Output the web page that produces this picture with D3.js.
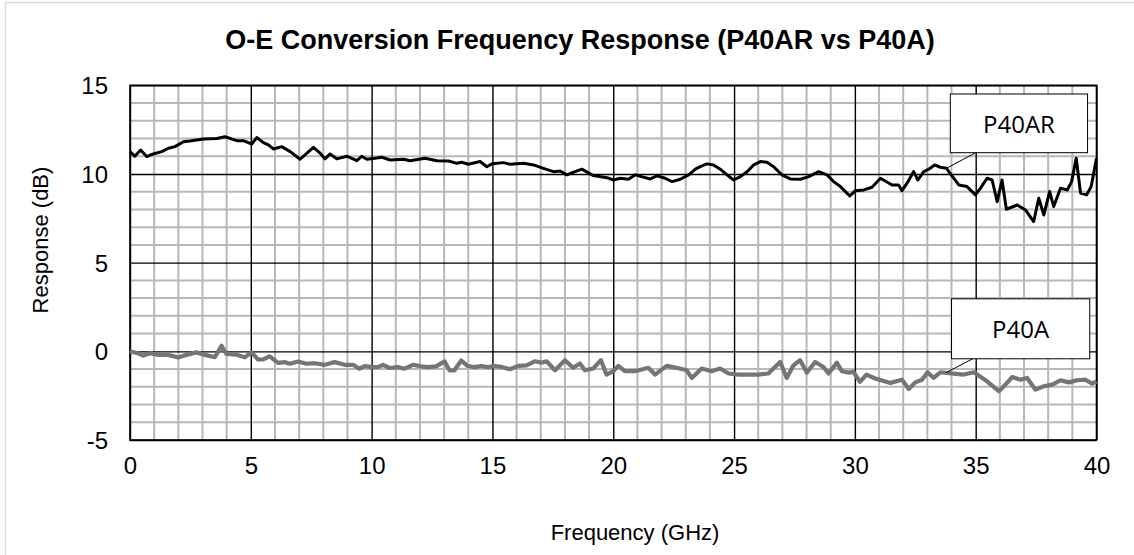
<!DOCTYPE html>
<html>
<head>
<meta charset="utf-8">
<script src="https://cdn.jsdelivr.net/npm/d3@7"></script>
<style>
  html, body { margin: 0; padding: 0; background: #fff; }
  svg { display: block; }
</style>
</head>
<body>
<svg id="chart" width="1134" height="555"></svg>
<script>
// ---- data ----
const chartTitle = "O-E Conversion Frequency Response (P40AR vs P40A)";
const xTitle = "Frequency (GHz)";
const yTitle = "Response (dB)";
const xTicks = [0, 5, 10, 15, 20, 25, 30, 35, 40];
const yTicks = [-5, 0, 5, 10, 15];
const seriesNames = ["P40AR", "P40A"];

const freqAR = [0,0.2,0.44,0.69,0.96,1.31,1.59,1.86,2.21,2.48,2.76,3.04,3.59,3.93,4.42,4.69,5.04,5.25,5.52,5.73,5.93,6.28,6.63,7.04,7.59,7.87,8.07,8.28,8.56,8.97,9.39,9.59,9.8,10.14,10.42,10.77,11.32,11.59,12.21,12.7,13.18,13.53,13.73,14.0,14.49,14.77,14.98,15.46,15.73,16.29,16.7,17.11,17.53,17.8,18.08,18.36,18.7,19.18,19.74,20.01,20.29,20.63,20.91,21.25,21.53,21.81,22.15,22.43,22.77,23.12,23.4,23.6,23.88,24.15,24.43,24.71,24.98,25.26,25.54,25.81,26.09,26.36,26.64,26.98,27.33,27.74,28.09,28.5,28.85,29.12,29.4,29.79,30.02,30.37,30.71,31.06,31.54,31.81,31.95,32.16,32.43,32.61,32.85,33.06,33.3,33.54,33.79,34.02,34.3,34.64,34.99,35.2,35.47,35.68,35.89,36.09,36.27,36.72,37.06,37.4,37.61,37.82,38.06,38.23,38.51,38.79,38.97,39.16,39.34,39.59,39.78,40.0];
const valAR = [11.26,11.0,11.35,10.98,11.13,11.26,11.45,11.54,11.82,11.86,11.92,11.97,12.0,12.1,11.88,11.88,11.69,12.05,11.77,11.64,11.41,11.54,11.26,10.83,11.5,11.17,10.85,11.13,10.85,11.0,10.75,11.0,10.83,10.89,10.94,10.79,10.83,10.75,10.89,10.75,10.73,10.6,10.66,10.55,10.7,10.41,10.57,10.64,10.55,10.6,10.51,10.32,10.13,10.17,9.95,10.1,10.27,9.91,9.79,9.66,9.76,9.7,9.95,9.82,9.72,9.89,9.76,9.57,9.7,9.95,10.27,10.41,10.57,10.51,10.27,9.95,9.66,9.85,10.13,10.51,10.7,10.66,10.41,9.95,9.72,9.7,9.85,10.13,9.95,9.57,9.29,8.76,9.06,9.1,9.25,9.76,9.38,9.38,9.06,9.48,10.13,9.66,10.13,10.27,10.51,10.38,10.32,9.89,9.38,9.29,8.82,9.2,9.76,9.66,8.44,9.66,8.01,8.25,7.97,7.32,8.63,7.69,9.01,8.16,9.2,9.1,9.57,10.89,8.92,8.82,9.29,10.89];

const freqA = [0,0.28,0.55,0.83,1.17,1.58,2.0,2.34,2.75,3.1,3.51,3.79,3.99,4.41,4.75,5.03,5.3,5.51,5.78,6.13,6.41,6.61,6.96,7.3,7.64,8.06,8.47,8.88,9.23,9.5,9.71,9.99,10.26,10.47,10.74,11.09,11.36,11.71,12.05,12.33,12.67,13.02,13.22,13.43,13.71,13.98,14.26,14.53,14.81,15.08,15.37,15.72,16.07,16.41,16.75,17.03,17.24,17.59,18.0,18.34,18.62,18.83,19.17,19.49,19.72,20.0,20.21,20.48,20.9,21.45,21.73,22.21,22.62,23.04,23.25,23.66,24.07,24.42,24.77,25.18,26.01,26.42,26.63,26.91,27.18,27.46,27.73,28.01,28.36,28.7,28.91,29.25,29.46,29.74,29.94,30.21,30.48,30.84,31.47,31.95,32.23,32.5,32.78,33.01,33.26,33.54,34.09,34.51,34.92,35.47,35.96,36.23,36.51,36.85,37.13,37.47,37.82,38.17,38.51,38.85,39.2,39.54,39.82,40.0];
const valA = [0.0,-0.09,-0.24,-0.11,-0.2,-0.2,-0.35,-0.2,-0.06,-0.2,-0.33,0.31,-0.15,-0.19,-0.33,-0.06,-0.46,-0.46,-0.28,-0.65,-0.61,-0.7,-0.57,-0.7,-0.67,-0.76,-0.61,-0.76,-0.76,-0.98,-0.83,-0.89,-0.89,-0.76,-0.94,-0.89,-0.98,-0.76,-0.85,-0.89,-0.85,-0.57,-1.07,-1.07,-0.52,-0.83,-0.89,-0.83,-0.89,-0.83,-0.88,-1.01,-0.82,-0.79,-0.56,-0.64,-0.56,-1.07,-0.5,-0.93,-0.69,-1.07,-0.97,-0.5,-1.31,-1.12,-0.82,-1.12,-1.12,-0.93,-1.31,-0.82,-0.93,-1.07,-1.5,-0.97,-1.12,-0.97,-1.25,-1.31,-1.31,-1.25,-0.97,-0.6,-1.5,-0.79,-0.5,-1.2,-0.6,-0.88,-1.25,-0.64,-1.12,-1.2,-1.16,-1.72,-1.31,-1.53,-1.78,-1.6,-2.12,-1.75,-1.6,-1.18,-1.5,-1.18,-1.26,-1.31,-1.18,-1.69,-2.25,-1.88,-1.45,-1.6,-1.5,-2.16,-1.97,-1.88,-1.63,-1.75,-1.63,-1.6,-1.82,-1.69];

// label callouts (data coordinates): box corners, box anchor, point
const labelBoxAR = [33.95, 39.63, 14.51, 11.2];
const leaderAR = [35.0, 11.2, 33.79, 10.32];
const labelBoxA = [34.0, 39.72, 2.96, -0.42];
const leaderA = [35.06, -0.29, 33.79, -1.19];

// ---- layout ----
const W = 1134, H = 555;
const plot = { left: 130, right: 1096.5, top: 85.3, bottom: 440 };
const FONT = "'Liberation Sans', Arial, sans-serif";

const svg = d3.select("#chart");
const x = d3.scaleLinear().domain([0, 40]).range([plot.left, plot.right]);
const y = d3.scaleLinear().domain([-5, 15]).range([plot.bottom, plot.top]);

// outer chart border (light gray)
svg.append("rect")
  .attr("x", 5.5).attr("y", 2.5)
  .attr("width", W + 20).attr("height", H + 20)
  .attr("fill", "#fff").attr("stroke", "#d9d9d9").attr("stroke-width", 1.5);

const g = svg.append("g");

// minor gridlines
const minorX = d3.range(0, 41, 1).filter(v => v % 5 !== 0);
const minorY = d3.range(-5, 16, 1).filter(v => v % 5 !== 0);
g.selectAll(".mx").data(minorX).join("line")
  .attr("x1", d => x(d)).attr("x2", d => x(d))
  .attr("y1", plot.top).attr("y2", plot.bottom)
  .attr("stroke", "#b8b8b8").attr("stroke-width", 2);
g.selectAll(".my").data(minorY).join("line")
  .attr("y1", d => y(d)).attr("y2", d => y(d))
  .attr("x1", plot.left).attr("x2", plot.right)
  .attr("stroke", "#b8b8b8").attr("stroke-width", 2);

// major gridlines via axes
const fmt = d => String(d); // plain hyphen for negatives
const xAxis = d3.axisBottom(x).tickValues(xTicks).tickFormat(fmt)
  .tickSize(-(plot.bottom - plot.top)).tickPadding(14);
const yAxis = d3.axisLeft(y).tickValues(yTicks).tickFormat(fmt)
  .tickSize(-(plot.right - plot.left)).tickPadding(22);

const gx = g.append("g").attr("transform", `translate(0,${plot.bottom})`).call(xAxis);
const gy = g.append("g").attr("transform", `translate(${plot.left},0)`).call(yAxis);
[gx, gy].forEach(a => {
  a.select(".domain").remove();
  a.selectAll(".tick line").attr("stroke", "#000").attr("stroke-width", 1.4);
  a.selectAll(".tick text")
    .attr("fill", "#000")
    .style("font-family", FONT)
    .style("font-size", "24px");
});
gx.selectAll(".tick text").attr("dy", "0.85em");
gy.selectAll(".tick text").attr("dy", "0.36em");

// plot frame
g.append("rect")
  .attr("x", plot.left).attr("y", plot.top)
  .attr("width", plot.right - plot.left).attr("height", plot.bottom - plot.top)
  .attr("fill", "none").attr("stroke", "#000").attr("stroke-width", 1.6);

// series lines
const line = d3.line().x(d => x(d[0])).y(d => y(d[1]));
const dataAR = d3.zip(freqAR, valAR);
const dataA = d3.zip(freqA, valA);

g.append("path").datum(dataA)
  .attr("d", line).attr("fill", "none")
  .attr("stroke", "#787474").attr("stroke-width", 4.2)
  .attr("stroke-linejoin", "round");
g.append("path").datum(dataAR)
  .attr("d", line).attr("fill", "none")
  .attr("stroke", "#000").attr("stroke-width", 3)
  .attr("stroke-linejoin", "round");

// callout labels
function callout(box, leader, text) {
  g.append("line")
    .attr("x1", x(leader[0])).attr("y1", y(leader[1]))
    .attr("x2", x(leader[2])).attr("y2", y(leader[3]))
    .attr("stroke", "#000").attr("stroke-width", 1);
  g.append("rect")
    .attr("x", x(box[0])).attr("y", y(box[2]))
    .attr("width", x(box[1]) - x(box[0])).attr("height", y(box[3]) - y(box[2]))
    .attr("fill", "#fff").attr("stroke", "#000").attr("stroke-width", 1);
  g.append("text")
    .attr("x", (x(box[0]) + x(box[1])) / 2)
    .attr("y", (y(box[2]) + y(box[3])) / 2)
    .attr("text-anchor", "middle").attr("dominant-baseline", "central")
    .style("font-family", "'Open Sans', 'Liberation Sans', sans-serif")
    .style("font-size", "24px").attr("fill", "#000")
    .text(text);
}
callout(labelBoxAR, leaderAR, seriesNames[0]);
callout(labelBoxA, leaderA, seriesNames[1]);

// titles
svg.append("text")
  .attr("x", 580).attr("y", 49)
  .attr("text-anchor", "middle")
  .style("font-family", FONT)
  .style("font-size", "27px").style("font-weight", "bold")
  .text(chartTitle);

svg.append("text")
  .attr("x", 635).attr("y", 540)
  .attr("text-anchor", "middle")
  .style("font-family", FONT)
  .style("font-size", "22px")
  .text(xTitle);

svg.append("text")
  .attr("transform", `translate(48,240) rotate(-90)`)
  .attr("text-anchor", "middle")
  .style("font-family", FONT)
  .style("font-size", "22px")
  .text(yTitle);
</script>
</body>
</html>
